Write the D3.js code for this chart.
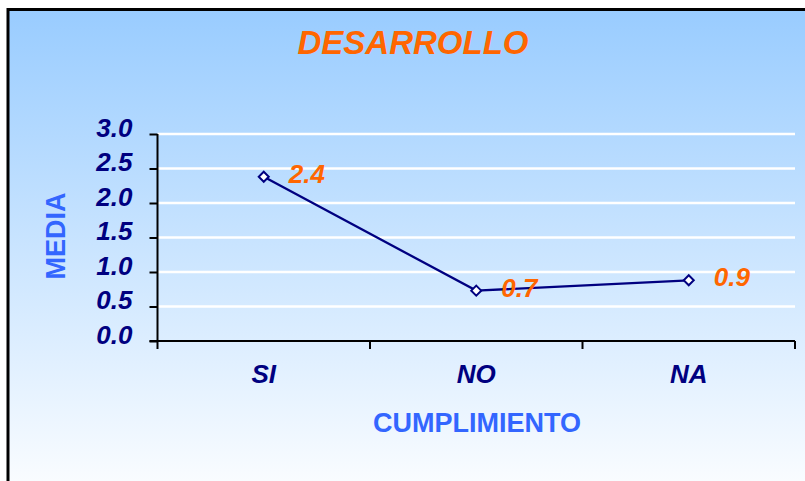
<!DOCTYPE html>
<html lang="es">
<head>
<meta charset="UTF-8">
<title>Desarrollo</title>
<script src="https://d3js.org/d3.v7.min.js"></script>
<style>
  body { margin: 0; background: #fff; }
  svg { display: block; font-family: "Liberation Sans", Arial, sans-serif; }
</style>
</head>
<body>
<div id="chart"></div>
<script>
// data
const categories = ["SI", "NO", "NA"];
const values = [2.38, 0.73, 0.88];
const labels = ["2.4", "0.7", "0.9"];
const yTicks = [0, 0.5, 1, 1.5, 2, 2.5, 3];

const W = 805, H = 481;
const margin = {top: 134, right: 10, bottom: 140, left: 157.5};

const svg = d3.select("#chart").append("svg")
  .attr("width", W).attr("height", H);

// background gradient
const grad = svg.append("defs").append("linearGradient")
  .attr("id", "bg").attr("x1", 0).attr("y1", 0).attr("x2", 0).attr("y2", 1);
grad.append("stop").attr("offset", "0%").attr("stop-color", "#99CCFF");
grad.append("stop").attr("offset", "100%").attr("stop-color", "#FFFFFF");

svg.append("rect")
  .attr("x", 8).attr("y", 9.5).attr("width", W + 20).attr("height", H + 20)
  .attr("fill", "url(#bg)")
  .attr("stroke", "#000").attr("stroke-width", 3);

const x = d3.scaleBand().domain(categories).range([margin.left, 795]);
const y = d3.scaleLinear().domain([0, 3]).range([341, margin.top]);

// gridlines
svg.append("g").selectAll("line")
  .data(yTicks.filter(d => d > 0))
  .join("line")
  .attr("x1", margin.left).attr("x2", 795)
  .attr("y1", d => y(d)).attr("y2", d => y(d))
  .attr("stroke", "#fff").attr("stroke-width", 2.5);

// y axis
const yAxis = svg.append("g")
  .attr("transform", `translate(${margin.left},0)`)
  .call(d3.axisLeft(y).tickValues(yTicks).tickSize(8).tickSizeOuter(0).tickFormat(d3.format(".1f")));
yAxis.select(".domain").attr("stroke", "#000").attr("stroke-width", 2)
  .attr("d", `M0,${y(3)}V${y(0) + 8}`);
yAxis.selectAll(".tick line").attr("stroke", "#000").attr("stroke-width", 2);
yAxis.selectAll(".tick text")
  .attr("x", -25).attr("dy", "0.08em")
  .attr("fill", "#000080")
  .style("font-size", "26px").style("font-weight", "bold").style("font-style", "italic");

// x axis
const xAxis = svg.append("g")
  .attr("transform", `translate(0,${y(0)})`)
  .call(d3.axisBottom(x).tickSize(0).tickSizeOuter(0));
xAxis.select(".domain").attr("stroke", "#000").attr("stroke-width", 2)
  .attr("d", `M${margin.left - 8},0H795`);
xAxis.selectAll(".tick text")
  .attr("y", 42).attr("dy", 0)
  .attr("fill", "#000080")
  .style("font-size", "26px").style("font-weight", "bold").style("font-style", "italic");
// category boundary ticks
xAxis.append("g").selectAll("line")
  .data(categories)
  .join("line")
  .attr("x1", d => x(d) + x.bandwidth()).attr("x2", d => x(d) + x.bandwidth())
  .attr("y1", 0).attr("y2", 8)
  .attr("stroke", "#000").attr("stroke-width", 2);

const cx = d => x(d) + x.bandwidth() / 2;

// line
const pts = categories.map((c, i) => [cx(c), y(values[i])]);
svg.append("path")
  .attr("d", d3.line()(pts))
  .attr("fill", "none").attr("stroke", "#000080").attr("stroke-width", 2.3);

// diamond markers
svg.append("g").selectAll("path")
  .data(pts)
  .join("path")
  .attr("transform", d => `translate(${d[0]},${d[1]})`)
  .attr("d", "M0,-5L5,0L0,5L-5,0Z")
  .attr("fill", "#fff").attr("stroke", "#000080").attr("stroke-width", 2);

// value labels
svg.append("g").selectAll("text")
  .data(pts)
  .join("text")
  .attr("x", d => d[0] + 25).attr("y", d => d[1] + 6)
  .text((d, i) => labels[i])
  .attr("fill", "#FF6600")
  .style("font-size", "26px").style("font-weight", "bold").style("font-style", "italic");

// title
svg.append("text")
  .attr("x", 413).attr("y", 54)
  .attr("text-anchor", "middle")
  .attr("fill", "#FF6600")
  .style("font-size", "33px").style("font-weight", "bold").style("font-style", "italic")
  .text("DESARROLLO");

// axis titles
svg.append("text")
  .attr("transform", "translate(65,236) rotate(-90)")
  .attr("text-anchor", "middle")
  .attr("fill", "#3366FF")
  .style("font-size", "27px").style("font-weight", "bold")
  .text("MEDIA");

svg.append("text")
  .attr("x", 477).attr("y", 432)
  .attr("text-anchor", "middle")
  .attr("fill", "#3366FF")
  .style("font-size", "27px").style("font-weight", "bold")
  .text("CUMPLIMIENTO");
</script>
</body>
</html>
